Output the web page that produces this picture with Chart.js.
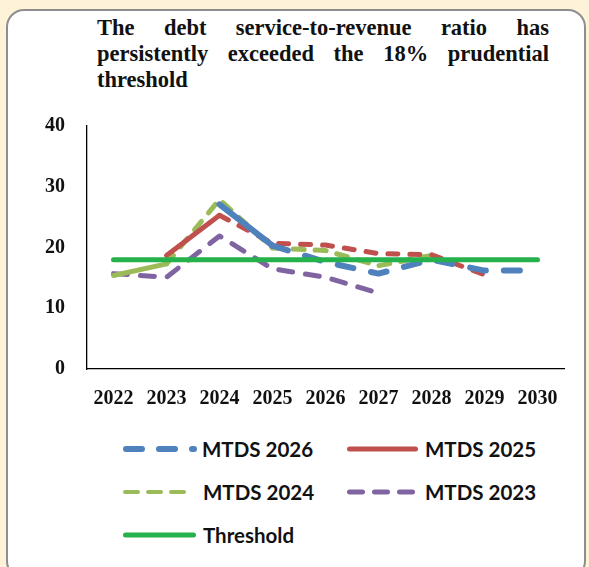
<!DOCTYPE html>
<html>
<head>
<meta charset="utf-8">
<script src="https://cdn.jsdelivr.net/npm/chart.js@4.4.0/dist/chart.umd.min.js"></script>
<style>
  html, body { margin: 0; padding: 0; }
  body { width: 589px; height: 567px; background: #fef3d9; position: relative; overflow: hidden; }
  .frame {
    position: absolute; left: 6px; top: 9px; width: 576px; height: 566px;
    background: #fff; border: 2px solid #8e8e8e; border-radius: 18px;
  }
  .title {
    position: absolute; left: 97px; top: 15px; width: 452px;
    font-family: "Liberation Serif", "Times New Roman", serif; font-weight: bold; font-size: 22.5px;
    line-height: 26px; color: #111;
  }
  .title div { text-align: justify; text-align-last: justify; white-space: nowrap; }
  .title div.last { text-align-last: left; }
  #wrap { position: absolute; left: 0; top: 92px; width: 589px; height: 317px; }
  .leg { position: absolute; display: flex; align-items: center;
    font-family: Lato, sans-serif; font-weight: bold; font-size: 20.5px; color: #111; }
  .leg svg { display: block; }
</style>
</head>
<body>
<div class="frame"></div>
<div class="title">
  <div>The debt service-to-revenue ratio has</div>
  <div>persistently exceeded the 18% prudential</div>
  <div class="last">threshold</div>
</div>
<div id="wrap"><canvas id="chart"></canvas></div>
<div id="legend"></div>

<script>
// years on the x axis
const years = ['2022', '2023', '2024', '2025', '2026', '2027', '2028', '2029', '2030'];
const yTicks = [0, 10, 20, 30, 40];

// ratio series (%)
const mtds2026 = [null, null, 27.1, 20.3, 17.6, 15.7, 18.0, 16.2, 16.2];
const mtds2025 = [null, 18.7, 25.3, 20.7, 20.4, 19.0, 18.8, 15.5, null];
const mtds2024 = [15.4, 17.3, 27.9, 19.9, 19.5, 17.0, 18.7, null, null];
const mtds2023 = [15.7, 15.1, 21.9, 16.5, 15.1, 12.5, null, null, null];
const threshold = [18, 18, 18, 18, 18, 18, 18, 18, 18];

const names = ['MTDS 2026', 'MTDS 2025', 'MTDS 2024', 'MTDS 2023', 'Threshold'];
const values = [mtds2026, mtds2025, mtds2024, mtds2023, threshold];
const colors = ['#4f81bd', '#c0504d', '#9bbb59', '#8064a2', '#25b14c'];
const widths = [6, 5, 5, 5, 5];
const dashes = [[16, 18], [10, 12], [11, 11], [14, 13], []];
// segments before this index are drawn solid (actual years)
const solidUntil = [3, 2, 1, 0, 99];

let datasets = [];
for (let i = 0; i < names.length; i++) {
  datasets.push({
    label: names[i],
    data: values[i],
    borderColor: colors[i],
    backgroundColor: colors[i],
    borderWidth: widths[i],
    borderCapStyle: 'round',
    borderJoinStyle: 'round',
    pointRadius: 0,
    pointHoverRadius: 0,
    fill: false,
    tension: 0,
    segment: {
      borderDash: ctx => ctx.p0DataIndex < solidUntil[i] ? [] : dashes[i]
    }
  });
}
// threshold drawn on top
datasets[4].order = -1;

new Chart(document.getElementById('chart'), {
  type: 'line',
  data: { labels: years, datasets: datasets },
  options: {
    responsive: true,
    maintainAspectRatio: false,
    animation: false,
    layout: { padding: { top: 0, right: 25, left: 0, bottom: 0 } },
    plugins: { legend: { display: false }, tooltip: { enabled: false } },
    scales: {
      x: {
        offset: true,
        grid: { display: false, drawTicks: false },
        border: { display: true, color: '#000', width: 1.3 },
        ticks: {
          color: '#111', padding: 18, maxRotation: 0,
          font: { family: 'Liberation Serif', weight: 'bold', size: 20 }
        },
        afterFit: s => { s.height = 40; }
      },
      y: {
        min: 0, max: 40,
        grid: { display: false, drawTicks: false },
        border: { display: true, color: '#000', width: 1.3 },
        ticks: {
          stepSize: 10, color: '#111', padding: 22,
          font: { family: 'Liberation Serif', weight: 'bold', size: 20 }
        },
        afterBuildTicks: s => { s.ticks = yTicks.map(v => ({ value: v })); },
        afterFit: s => { s.width = 87; }
      }
    }
  }
});

// legend laid out as in the picture: two columns, three rows
const legPos = [[123, 449], [347, 449], [123, 492], [347, 492], [123, 535]];
const legLen = [68, 66, 60, 63, 68];
const legDash = [[16, 17], [], [13, 10], [13, 12], []];
const legWidth = [6, 5, 4, 5, 5];
const legGap = [5, 7, 16, 10, 7];
let html = '';
for (let i = 0; i < names.length; i++) {
  const w = legWidth[i];
  const len = legLen[i];
  const dash = legDash[i].length ? legDash[i].join(' ') : 'none';
  html += `<div class="leg" style="left:${legPos[i][0]}px;top:${legPos[i][1] - 12}px;height:24px">
    <svg width="${len + w}" height="24"><line x1="${w / 2}" y1="12" x2="${len + w / 2}" y2="12"
      stroke="${colors[i]}" stroke-width="${w}" stroke-linecap="round" stroke-dasharray="${dash}"/></svg>
    <span style="margin-left:${legGap[i]}px">${names[i]}</span></div>`;
}
document.getElementById('legend').innerHTML = html;
</script>
</body>
</html>
